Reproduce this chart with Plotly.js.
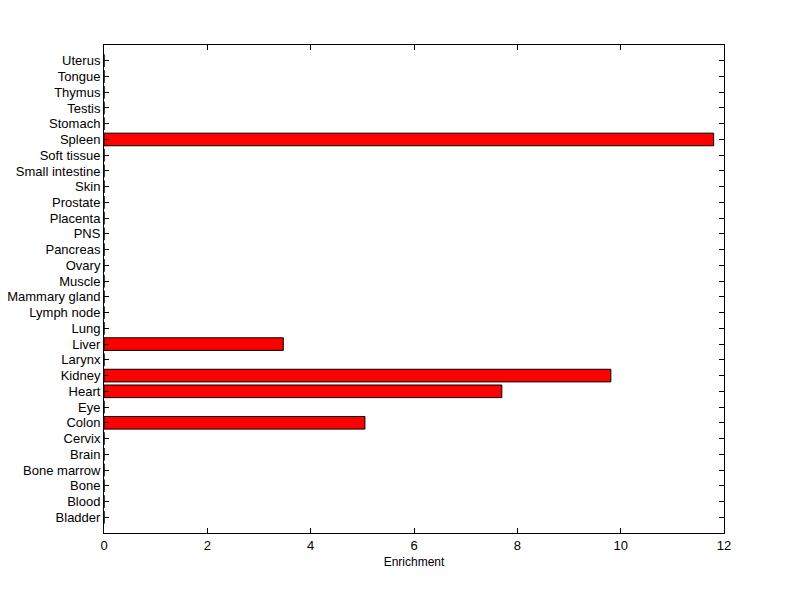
<!DOCTYPE html>
<html>
<head>
<meta charset="utf-8">
<script src="https://cdn.plot.ly/plotly-3.0.1.min.js"></script>
<style>body{margin:0;padding:0;background:#fff;} #chart{width:800px;height:599px;}</style>
</head>
<body>
<div id="chart"></div>
<script>
const tissues = ["Bladder","Blood","Bone","Bone marrow","Brain","Cervix","Colon","Eye","Heart","Kidney","Larynx","Liver","Lung","Lymph node","Mammary gland","Muscle","Ovary","Pancreas","PNS","Placenta","Prostate","Skin","Small intestine","Soft tissue","Spleen","Stomach","Testis","Thymus","Tongue","Uterus"];
const enrichment = [0,0,0,0,0,0,5.05,0,7.70,9.81,0,3.47,0,0,0,0,0,0,0,0,0,0,0,0,11.80,0,0,0,0,0];
const xTicks = [0,2,4,6,8,10,12];

const positions = tissues.map((t,i)=>i);
const font = {family:"Liberation Sans, Arial, sans-serif", size:13, color:"#000"};

Plotly.newPlot("chart", [{
  type:"bar",
  orientation:"h",
  x: enrichment,
  y: positions,
  width: 0.8,
  marker:{color:"#ff0000", line:{color:"#000", width:1}},
  hoverinfo:"skip"
}], {
  width:800, height:599,
  margin:{l:104, r:76, t:45, b:66},
  paper_bgcolor:"#fff", plot_bgcolor:"#fff",
  showlegend:false,
  font: font,
  xaxis:{
    range:[0,12], tickvals:xTicks, ticktext:xTicks.map(String),
    ticks:"inside", ticklen:5, tickcolor:"#000",
    showline:true, linecolor:"#000", linewidth:1, mirror:"ticks",
    showgrid:false, zeroline:false,
    title:{text:"Enrichment", font:{family:font.family, size:12, color:"#000"}, standoff:6}
  },
  yaxis:{
    range:[-1,30], tickvals:positions, ticktext:tissues,
    ticks:"inside", ticklen:5, tickcolor:"#000",
    showline:true, linecolor:"#000", linewidth:1, mirror:"ticks",
    showgrid:false, zeroline:false
  }
}, {displayModeBar:false, staticPlot:true});
</script>
</body>
</html>
